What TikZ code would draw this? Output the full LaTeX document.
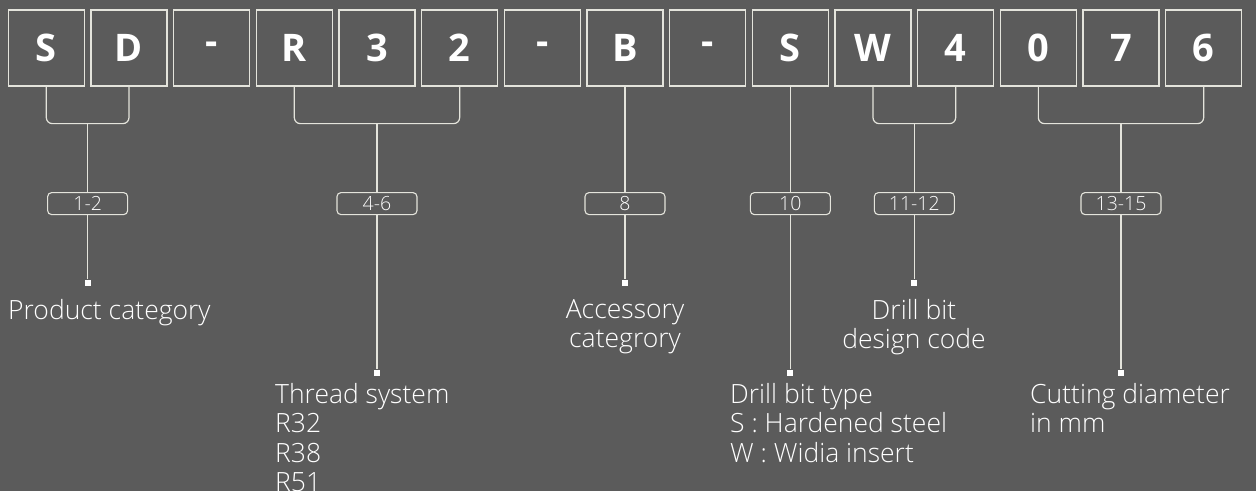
\documentclass[tikz,border=0pt]{standalone}
\usepackage{fontspec}
\setmainfont{Open Sans}
\newfontfamily\lightfont{Open Sans Light}
\usetikzlibrary{positioning}
\definecolor{bgcol}{HTML}{5B5B5B}
\definecolor{wirecol}{HTML}{E4E4DC}
\tikzset{
  charbox/.style={draw=wirecol, line width=1.2pt, minimum size=76pt, inner sep=0pt, text=white, font=\fontsize{38}{40}\selectfont\bfseries},
  wire/.style={draw=wirecol, line width=1.2pt},
  posbox/.style={draw=wirecol, line width=1.1pt, rounded corners=4pt, minimum width=80pt, minimum height=22pt, inner sep=0pt, text=white, font=\lightfont\fontsize{19.5}{19.5}\selectfont},
  tip/.style={fill=white, minimum size=6pt, inner sep=0pt},
  caption/.style={text=white, inner sep=0pt, font=\lightfont\fontsize{26.5}{29.5}\selectfont},
}
\begin{document}
\begin{tikzpicture}[x=1pt,y=-1pt]
  % Parameters
  \def\boxpitch{82.67} % Distance between box centres
  \def\xfirst{46.3} % Centre of the first box
  \def\ymid{48} % Centre line of the boxes

  % Background
  \fill[bgcol] (0,0) rectangle (1256,491);
  \useasboundingbox (0,0) rectangle (1256,491);

  % Code boxes
  \foreach \c [count=\i] in {S,D,-,R,3,2,-,B,-,S,W,4,0,7,6} {
    \node[charbox] (b\i) at ({\xfirst+(\i-1)*\boxpitch},\ymid) {\c};
  }

  % Brackets over several boxes
  \foreach \a/\b/\lbl/\n/\ydot in {1/2/1-2/pc/282, 4/6/4-6/ts/372, 11/12/11-12/dc/282, 13/15/13-15/cd/372} {
    \path (b\a.south) -- (b\b.south) coordinate[pos=0.5] (m\n);
    \coordinate (j\n) at ([yshift=-37pt]m\n);
    \draw[wire, rounded corners=6pt] (b\a.south) |- (j\n) -| (b\b.south);
    \node[posbox] (p\n) at ([yshift=-80pt]j\n) {\lbl};
    \node[tip] (t\n) at ([yshift={(123-\ydot)*1pt}]j\n) {};
    \draw[wire] (j\n) -- (p\n.north);
    \draw[wire] (p\n.south) -- (t\n);
  }

  % Single boxes
  \foreach \a/\n/\ydot in {8/ac/282, 10/bt/372} {
    \node[posbox] (p\n) at ([yshift=-117pt]b\a.south) {\a};
    \node[tip] (t\n) at ([yshift={(86-\ydot)*1pt}]b\a.south) {};
    \draw[wire] (b\a.south) -- (p\n.north);
    \draw[wire] (p\n.south) -- (t\n);
  }

  % Captions
  \node[caption, anchor=north west, align=left] (cpc) at (8,299) {Product category};
  \node[caption, anchor=north west, align=left] (cts) at (275,383) {Thread system\\R32\\R38\\R51};
  \node[caption, anchor=north, align=center] (cac) at (625,299) {Accessory\\categrory};
  \node[caption, anchor=north west, align=left] (cbt) at (730,383) {Drill bit type\\S : Hardened steel\\W : Widia insert};
  \node[caption, anchor=north, align=center] (cdc) at (914,299) {Drill bit\\design code};
  \node[caption, anchor=north west, align=left] (ccd) at (1030,383) {Cutting diameter\\in mm};
\end{tikzpicture}
\end{document}
